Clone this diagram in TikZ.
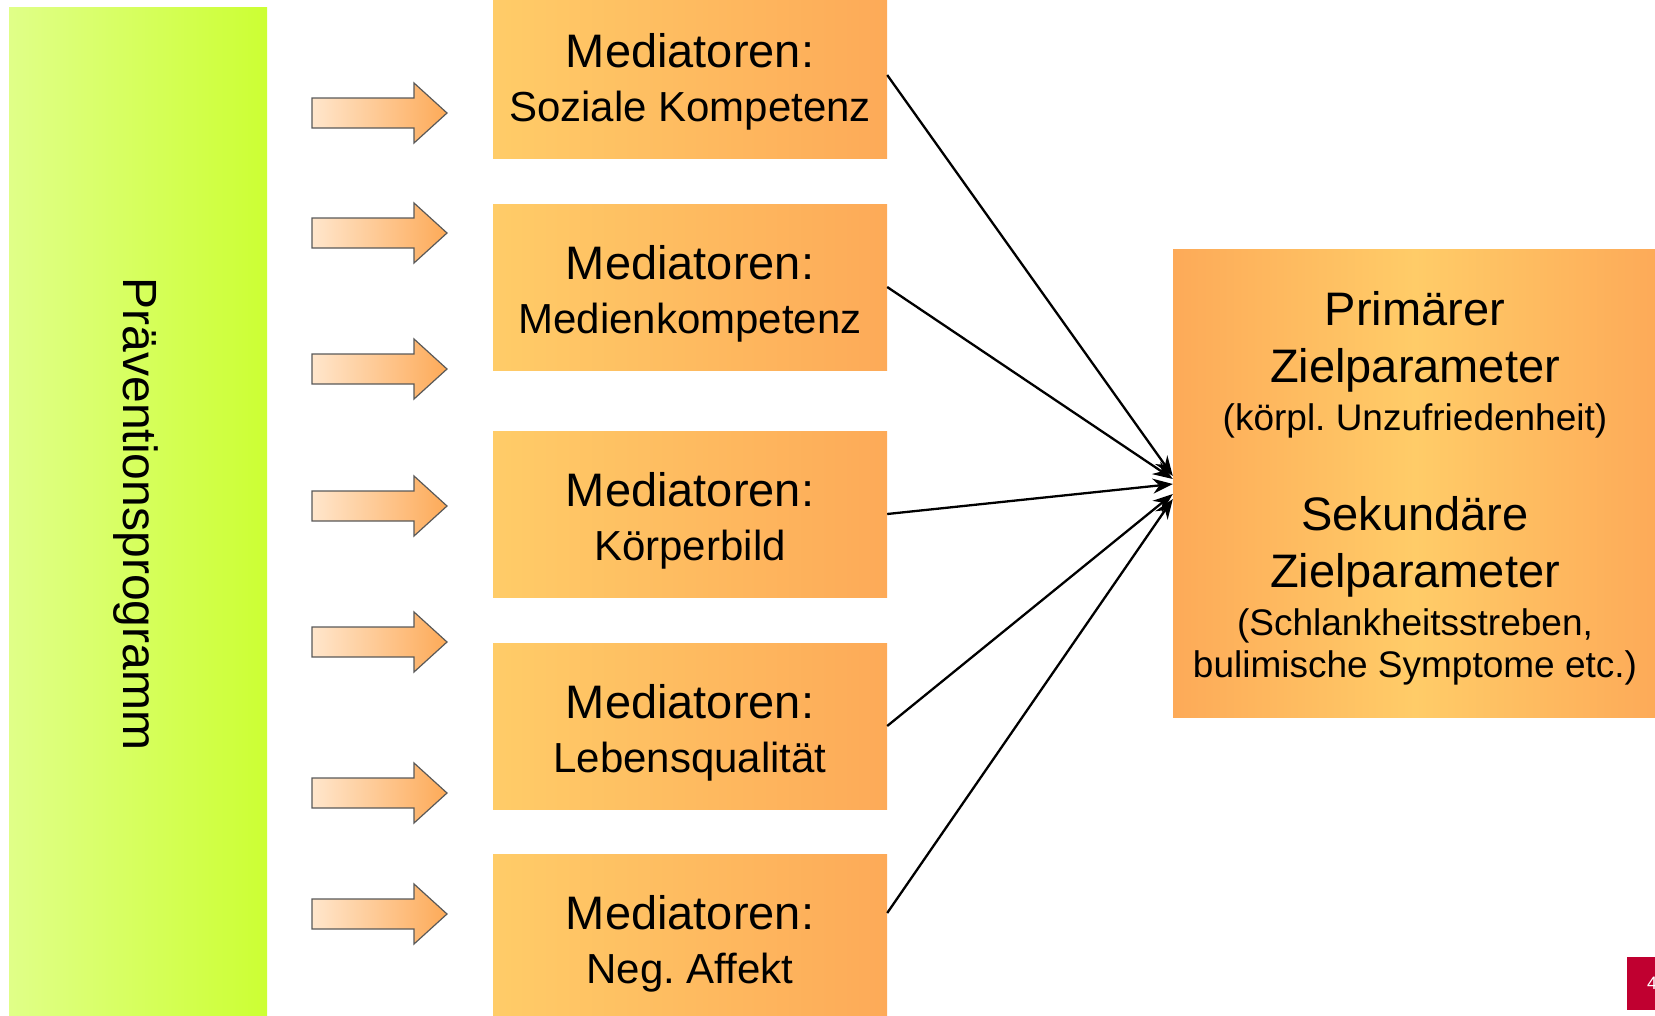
\documentclass[tikz,border=0pt]{standalone}
\usepackage{fontspec}
\setmainfont{Liberation Sans}
\usetikzlibrary{arrows.meta}
\frenchspacing

\definecolor{gruenhell}{RGB}{224,255,136}
\definecolor{gruen}{RGB}{204,255,51}
\definecolor{orangehell}{RGB}{255,204,104}
\definecolor{orangedunkel}{RGB}{253,170,88}
\definecolor{pfeilhell}{RGB}{255,230,204}
\definecolor{seitenrot}{RGB}{192,0,48}

\tikzset{
  mediator/.style={rectangle, left color=orangehell, right color=orangedunkel,
    minimum width=394pt, minimum height=166pt, inner sep=0pt, align=center,
    font=\fontsize{42}{54}\selectfont},
  blockpfeil/.style={left color=pfeilhell, right color=orangedunkel,
    draw=black!65, line width=1.2pt},
  wirkung/.style={-{Stealth[length=20pt,width=15pt]}, line width=2.3pt},
}

\newcommand{\gross}[1]{{\fontsize{47}{57}\selectfont #1}}

\begin{document}
\begin{tikzpicture}[x=1pt, y=-1pt]
    \clip (0,0) rectangle (1655,1015);

    % Program bar
    \node (programm) [rectangle, left color=gruenhell, right color=gruen,
      minimum width=258pt, minimum height=1013pt, inner sep=0pt] at (138,513.5) {};
    \node (programmtext) [rotate=-90, inner sep=0pt, font=\fontsize{48}{58}\selectfont]
      at (136,514) {Präventionsprogramm};

    % Block arrows
    \foreach \y in {113,233,369,506,642,793,914}
      \draw[blockpfeil] (312,\y-15) -- (414,\y-15) -- (414,\y-30) -- (447,\y)
        -- (414,\y+30) -- (414,\y+15) -- (312,\y+15) -- cycle;

    % Mediators
    \node[mediator] (m1) at (690,75) {\gross{\rule{0pt}{48pt}Mediatoren:}\\ Soziale Kompetenz};
    \node[mediator] (m2) at (690,287) {\gross{\rule{0pt}{48pt}Mediatoren:}\\ Medienkompetenz};
    \node[mediator] (m3) at (690,514) {\gross{\rule{0pt}{48pt}Mediatoren:}\\ Körperbild};
    \node[mediator] (m4) at (690,726) {\gross{\rule{0pt}{48pt}Mediatoren:}\\ Lebensqualität};
    \node[mediator] (m5) at (690,937) {\gross{\rule{0pt}{48pt}Mediatoren:}\\ Neg. Affekt};

    % Outcome box
    \node (ziel) [rectangle, left color=orangedunkel, right color=orangedunkel,
      middle color=orangehell, minimum width=484pt, minimum height=468pt,
      inner sep=0pt, align=center, font=\fontsize{37}{48}\selectfont] at (1415,483)
      {\gross{\rule{0pt}{44pt}Primärer}\\[9pt]
       \gross{Zielparameter}\\
       (körpl. Unzufriedenheit)\\[52pt]
       \gross{Sekundäre}\\[9pt]
       \gross{Zielparameter}\\
       (Schlankheitsstreben,\\[-6pt]
       bulimische Symptome etc.)};

    % Effects
    \draw[wirkung] (m1.east) -- ([yshift=7pt]ziel.west);
    \draw[wirkung] (m2.east) -- ([yshift=4pt]ziel.west);
    \draw[wirkung] (m3.east) -- ([yshift=-1pt]ziel.west);
    \draw[wirkung] (m4.east) -- ([yshift=-11pt]ziel.west);
    \draw[wirkung] ([yshift=24pt]m5.east) -- ([yshift=-16pt]ziel.west);

    % Page number
    \node (seite) [rectangle, fill=seitenrot, minimum width=40pt, minimum height=53pt,
      inner sep=0pt, anchor=north west] at (1627,957) {};
    \node (seitenzahl) [anchor=west, inner sep=0pt, text=white,
      font=\fontsize{18}{22}\selectfont] at (1647,983) {4};
\end{tikzpicture}
\end{document}
